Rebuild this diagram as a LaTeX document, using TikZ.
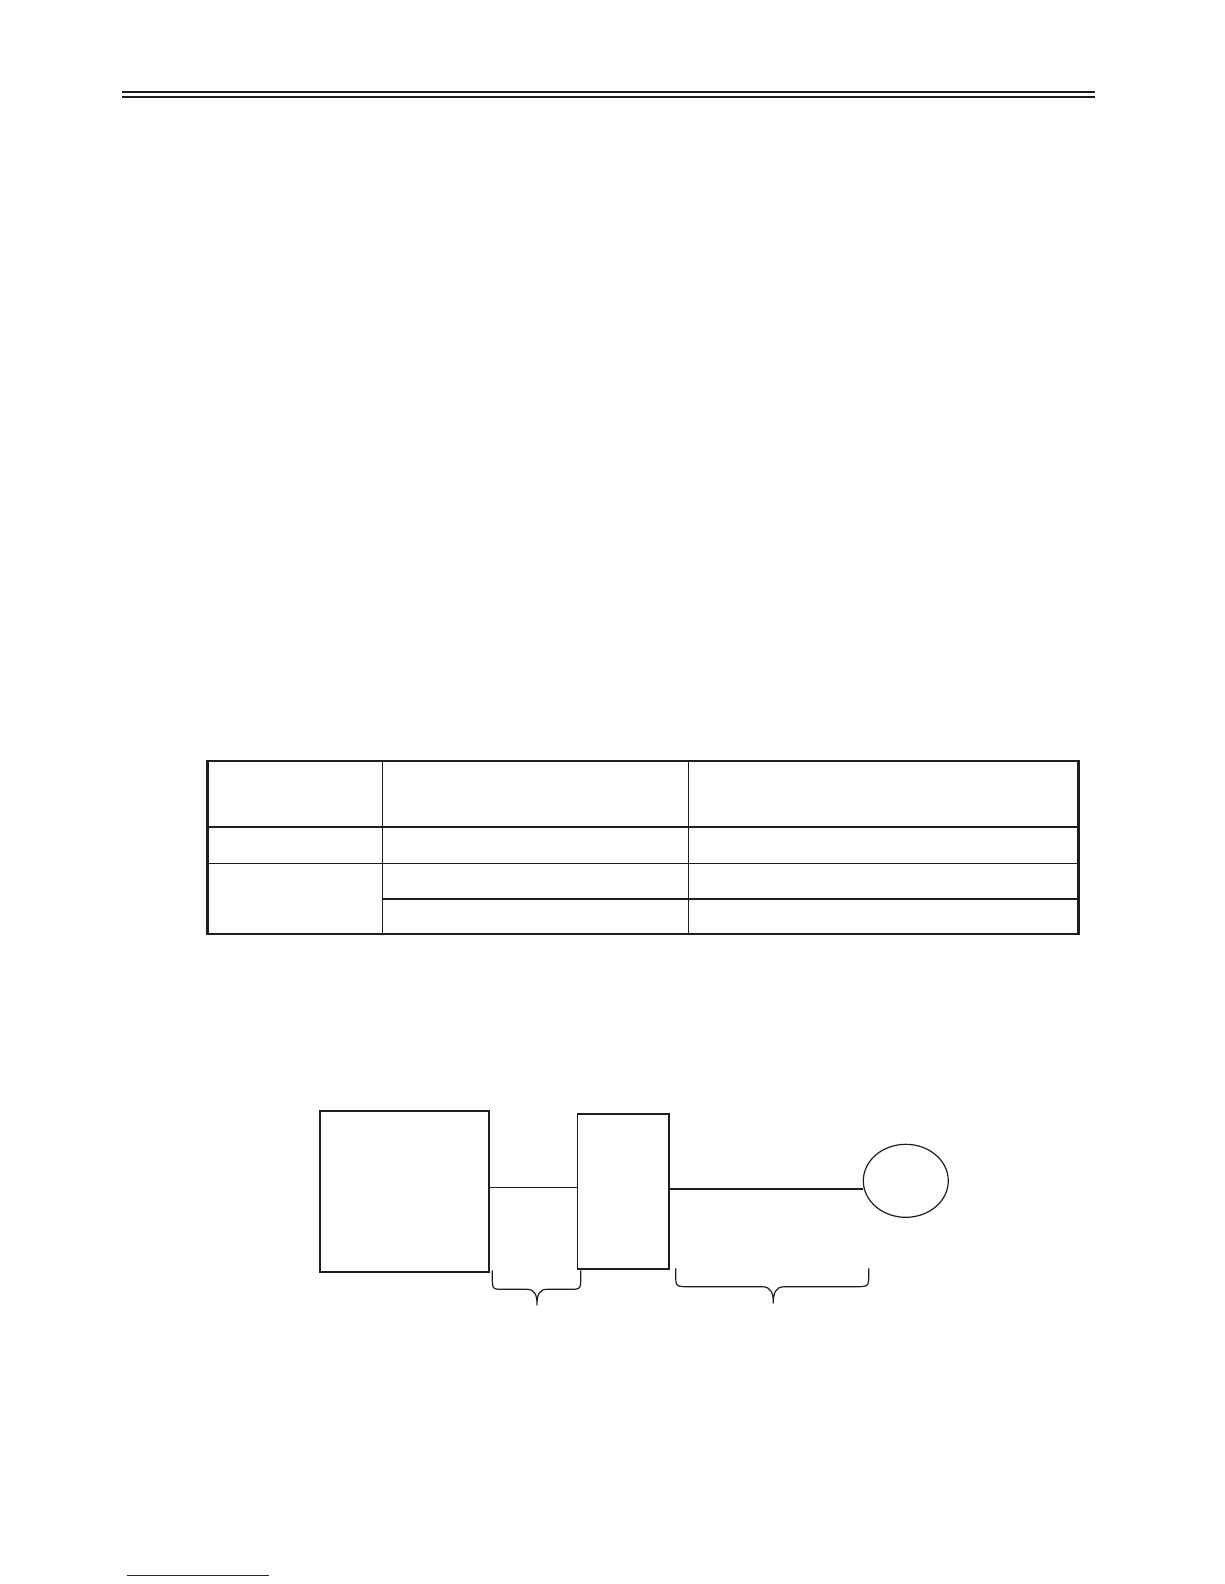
\documentclass[tikz,border=0pt]{standalone}
\usetikzlibrary{shapes.geometric}
\definecolor{ink}{RGB}{30,30,30}
\definecolor{linkblue}{RGB}{25,25,150}
\begin{document}
\begin{tikzpicture}[x=1pt,y=-1pt,
  outerframe/.style={draw=ink,line width=2.7pt},
  midrule/.style={draw=ink,line width=1.7pt},
  thinrule/.style={draw=ink,line width=1pt},
  blockbox/.style={draw=ink,line width=1.7pt,inner sep=0pt,outer sep=0pt,anchor=north west},
  wire/.style={draw=ink,line width=1.1pt},
  heavywire/.style={draw=ink,line width=1.8pt},
  bracestyle/.style={draw=ink,line width=1.2pt,line join=round},
  headrule/.style={draw=ink,line width=2pt}]
\useasboundingbox (0,0) rectangle (1224,1584);
% header double rule
\draw[headrule] (122,92.5) -- (1095,92.5);
\draw[headrule] (122,97.5) -- (1095,97.5);
% table
\draw[outerframe] (207.7,761) rectangle (1078.3,934);
\draw[midrule] (207.7,827.3) -- (1078.3,827.3);
\draw[thinrule] (207.7,863) -- (1078.3,863);
\draw[midrule] (382.3,899) -- (1078.3,899);
\draw[thinrule] (382.3,761) -- (382.3,934);
\draw[thinrule] (688.3,761) -- (688.3,934);
% diagram blocks
\node[blockbox,minimum width=169.3pt,minimum height=161.6pt] (big) at (320,1110.7) {};
\node[blockbox,minimum width=91.5pt,minimum height=155.6pt] (mid) at (577.5,1113.7) {};
\node[ellipse,draw=ink,line width=1.2pt,inner sep=0pt,outer sep=0pt,minimum width=85pt,minimum height=73pt] (circ) at (905.8,1180.8) {};
\coordinate (l1) at (0,1187.3);
\coordinate (l2) at (0,1189);
\draw[wire] (l1 -| big.east) -- (l1 -| mid.west);
\draw[heavywire] (l2 -| mid.east) -- (l2 -| circ.west);
% braces
\draw[bracestyle] (492.3,1270.3) -- (492.3,1277) .. controls (492.3,1289.3) .. (504,1289.3)
  -- (527,1289.3) .. controls (535,1289.3) and (537,1295) .. (537,1305)
  .. controls (537,1295) and (539,1289.3) .. (547,1289.3)
  -- (569,1289.3) .. controls (580.7,1289.3) .. (580.7,1277) -- (580.7,1270.3);
\draw[bracestyle] (675.7,1268.3) -- (675.7,1274) .. controls (675.7,1286.7) .. (689,1286.7)
  -- (762,1286.7) .. controls (771,1286.7) and (773.3,1293) .. (773.3,1303)
  .. controls (773.3,1293) and (775.5,1286.7) .. (784.5,1286.7)
  -- (855,1286.7) .. controls (868.7,1286.7) .. (868.7,1274) -- (868.7,1268.3);
% footer link rule
\draw[linkblue,line width=1.2pt] (126.7,1575.3) -- (269,1575.3);
\end{tikzpicture}
\end{document}
